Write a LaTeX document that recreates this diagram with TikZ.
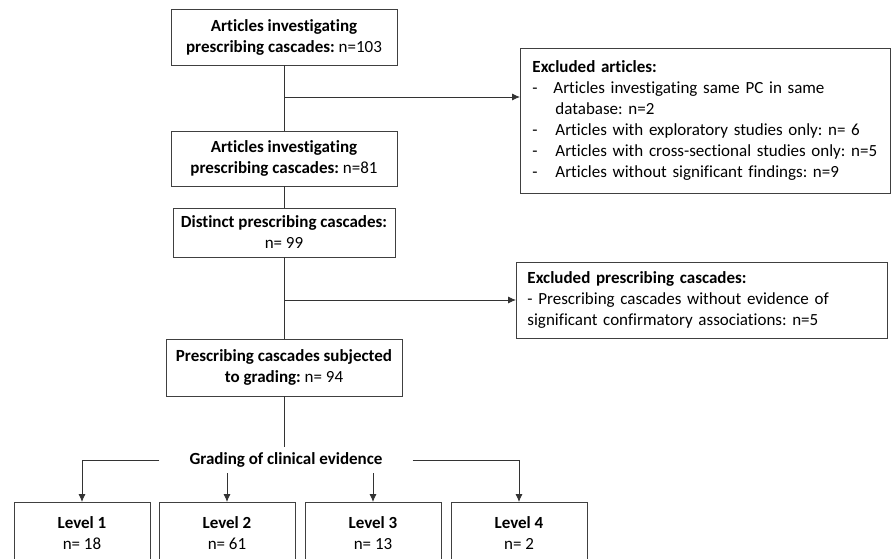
\documentclass[tikz,border=0pt]{standalone}
\usepackage{fontspec}
\setmainfont{Carlito}[Ligatures=NoCommon]
\usetikzlibrary{arrows.meta}
\frenchspacing
\begin{document}
\begin{tikzpicture}[
x=1pt, y=-1pt,
font=\fontsize{17}{21}\selectfont,
box/.style={rectangle, draw=black!75, line width=0.9pt, align=center, inner sep=4pt},
exbox/.style={rectangle, draw=black!75, line width=0.9pt, align=left, anchor=west},
lvl/.style={rectangle, draw=black!75, line width=0.9pt, align=center, anchor=north, minimum width=136pt, minimum height=61pt},
link/.style={draw=black!80, line width=0.8pt},
arr/.style={link, -{Latex[length=8pt,width=7pt]}},
]
\useasboundingbox (0,0) rectangle (891,558);
\clip (0,0) rectangle (891,558);
% main column
\node[box, minimum width=226pt, minimum height=56pt] (art1) at (284,37) {\textbf{Articles investigating}\\\textbf{prescribing cascades:} n=103};
\node[box, minimum width=226pt, minimum height=55pt] (art2) at (284,158.5) {\textbf{Articles investigating}\\\textbf{prescribing cascades:} n=81};
\node[box, minimum width=222pt, minimum height=49pt] (dist) at (284,232.5) {\textbf{Distinct prescribing cascades:}\\n= 99};
\node[box, minimum width=236pt, minimum height=57pt] (grad) at (284,367.5) {\textbf{Prescribing cascades subjected}\\\textbf{to grading:} n= 94};
% excluded
\node[exbox, text width=346pt, inner xsep=12pt, minimum height=145pt] (exart) at (520,120.5) {\textbf{Excluded articles:}\\
\makebox[21pt][l]{-}Articles investigating same PC in same\\
\hspace*{23pt}database: n=2\\
\makebox[23pt][l]{-}Articles with exploratory studies only: n= 6\\
\makebox[23pt][l]{-}Articles with cross-sectional studies only: n=5\\
\makebox[23pt][l]{-}Articles without significant findings: n=9};
\node[exbox, text width=349pt, inner xsep=11pt, minimum height=76pt] (expc) at (516,300) {\textbf{Excluded prescribing cascades:}\\
- Prescribing cascades without evidence of\\
significant confirmatory associations: n=5};
% grading
\node[inner xsep=30pt, minimum height=26pt] (evid) at (286,460) {\textbf{Grading of clinical evidence}};
\node[lvl] (lev1) at (82,502) {\textbf{Level 1}\\n= 18};
\node[lvl] (lev2) at (227,502) {\textbf{Level 2}\\n= 61};
\node[lvl] (lev3) at (373,502) {\textbf{Level 3}\\n= 13};
\node[lvl] (lev4) at (519,502) {\textbf{Level 4}\\n= 2};
% connectors
\coordinate (j1) at (284,97);
\coordinate (j2) at (284,300);
\draw[link] (art1) -- (art2);
\draw[link] (art2) -- (dist);
\draw[link] (dist) -- (grad);
\draw[link] (grad.south) -- (grad.south |- evid.north);
\draw[arr] (j1) -- (j1 -| exart.west);
\draw[arr] (j2) -- (j2 -| expc.west);
\draw[arr] (evid.west) -| (lev1.north);
\draw[arr] (evid.east) -| (lev4.north);
\draw[arr] (evid.south -| lev2.north) -- (lev2.north);
\draw[arr] (evid.south -| lev3.north) -- (lev3.north);
\end{tikzpicture}
\end{document}
